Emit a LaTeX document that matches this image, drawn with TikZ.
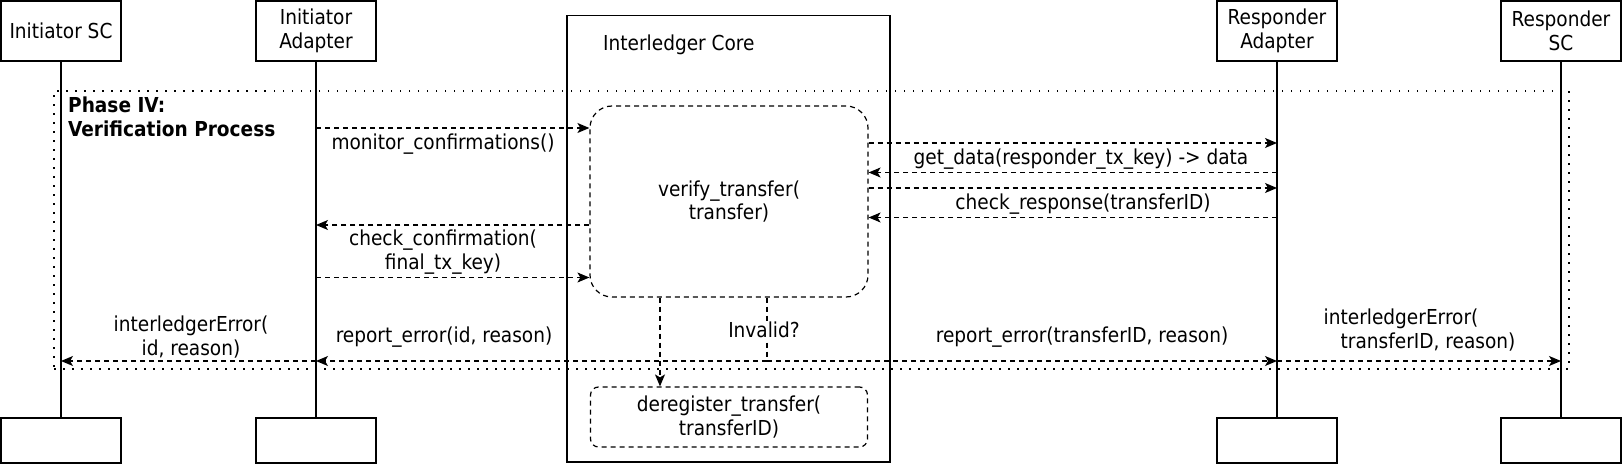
\documentclass[tikz,border=0pt]{standalone}
\usepackage{fontspec}
\setmainfont{DejaVu Sans Condensed}
\usetikzlibrary{arrows.meta,calc}
\begin{document}
\begin{tikzpicture}[x=1pt,y=-1pt,
  every node/.style={font=\fontsize{20.6}{23.7}\selectfont},
  actor/.style={draw, line width=1.3pt, minimum width=120pt, minimum height=60pt, align=center, inner sep=0pt},
  endbox/.style={draw, line width=1.3pt, minimum width=120pt, minimum height=45pt, inner sep=0pt},
  life/.style={line width=1.3pt},
  dline/.style={line width=1.2pt, dash pattern=on 5pt off 4pt},
  msg/.style={dline, -{Stealth[length=12pt,width=10pt,inset=3pt]}},
  dbox/.style={draw, line width=1.2pt, dash pattern=on 5pt off 4pt, align=center, inner sep=0pt},
  lbl/.style={inner sep=1pt, align=center},
]
\useasboundingbox (0,0) rectangle (1623,465);
% interledger core
\node[draw, line width=1.3pt, minimum width=323pt, minimum height=446.5pt, inner sep=0pt] (core) at (728.5,238.75) {};
\node[anchor=west, inner sep=0pt] (coretitle) at (603,45) {Interledger Core};
% phase frame
\node[draw, line width=1.3pt, dash pattern=on 1.5pt off 7.5pt, minimum width=1515pt, minimum height=278pt, inner sep=0pt] (phase) at (811.5,230) {};
\node[anchor=north west, align=left, font=\fontsize{20.6}{23.7}\selectfont\bfseries, inner sep=0pt] (phasetxt) at (68,97) {Phase IV:\\Verification Process};
% actors
\node[actor] (isc) at (61,31) {Initiator SC};
\node[actor] (iad) at (316,31) {Initiator\\Adapter};
\node[actor] (rad) at (1277,31) {Responder\\Adapter};
\node[actor] (rsc) at (1561,31) {Responder\\SC};
\node[endbox] (iscB) at (61,440.5) {};
\node[endbox] (iadB) at (316,440.5) {};
\node[endbox] (radB) at (1277,440.5) {};
\node[endbox] (rscB) at (1561,440.5) {};
\draw[life] (isc.south) -- (iscB.north);
\draw[life] (iad.south) -- (iadB.north);
\draw[life] (rad.south) -- (radB.north);
\draw[life] (rsc.south) -- (rscB.north);
% activities
\node[dbox, rounded corners=22pt, minimum width=278pt, minimum height=191pt] (verify) at (729,201.5) {verify\_transfer(\\transfer)};
\node[dbox, rounded corners=8pt, minimum width=277pt, minimum height=60pt] (dereg) at (729,417) {deregister\_transfer(\\transferID)};
% left messages
\draw[msg] (iad.south |- 0,128) -- (verify.west |- 0,128);
\node[lbl] (l1) at (443,144) {monitor\_confirmations()};
\draw[msg] (verify.west |- 0,225) -- (iad.south |- 0,225);
\node[lbl] (l2) at (443,252) {check\_confirmation(\\final\_tx\_key)};
\draw[msg] (iad.south |- 0,277.5) -- (verify.west |- 0,277.5);
% right messages
\draw[msg] (verify.east |- 0,143) -- (rad.south |- 0,143);
\node[lbl] (l3) at (1081,159) {get\_data(responder\_tx\_key) -> data};
\draw[msg] (rad.south |- 0,172.5) -- (verify.east |- 0,172.5);
\draw[msg] (verify.east |- 0,188) -- (rad.south |- 0,188);
\node[lbl] (l4) at (1083,204) {check\_response(transferID)};
\draw[msg] (rad.south |- 0,217.5) -- (verify.east |- 0,217.5);
% bottom
\draw[msg] (verify.south -| 660,0) -- (dereg.north -| 660,0);
\coordinate (inv) at (767,361);
\draw[dline] (verify.south -| inv) -- (inv);
\node[lbl, fill=white] (invl) at (764,330) {Invalid?};
\draw[msg] (inv) -- (iad.south |- inv);
\draw[msg] (iad.south |- inv) -- (isc.south |- inv);
\draw[msg] (inv) -- (rad.south |- inv);
\draw[msg] (rad.south |- inv) -- (rsc.south |- inv);
\node[lbl] (l5) at (191,337) {interledgerError(\\id, reason)};
\node[lbl] (l6) at (444,337) {report\_error(id, reason)};
\node[lbl] (l7) at (1082,337) {report\_error(transferID, reason)};
\node[lbl] (l8) at (1401,330) {interledgerError(\\\hspace*{54pt}transferID, reason)};
\end{tikzpicture}
\end{document}
